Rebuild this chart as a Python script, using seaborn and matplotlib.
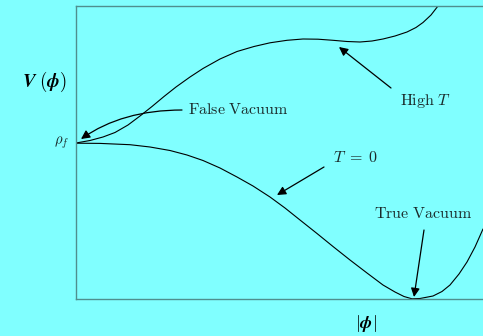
import matplotlib
matplotlib.use("Agg")
import matplotlib.pyplot as plt
import seaborn as sns
import pandas as pd

# curves (phi, V), axis units
phi_t0 = [0, 24, 54, 74, 94, 111, 127, 144, 161, 177, 194, 209, 224, 241, 257, 274, 291, 307,
          319, 328, 336, 344, 357, 366, 374, 383, 391, 399, 407]
v_t0 = [155.8, 155.6, 154.3, 152, 148.5, 144, 138.5, 131, 122, 113, 102, 91, 79, 65.5, 52.5, 39,
        26, 14, 7, 2.5, 0.2, 0.5, 3, 7.5, 14, 25, 37, 52, 70]

phi_hot = [0, 14, 27, 39, 52, 64, 76, 88, 100, 114, 127, 144, 161, 178, 194, 211, 227, 242, 257,
           271, 284, 296, 307, 319, 331, 340, 347, 355, 362, 368]
v_hot = [156, 158.5, 162, 166.5, 174, 183, 192.5, 202.5, 212, 222, 230.5, 240, 247.5, 252.5,
         256.2, 258.7, 260, 259.8, 258.7, 257.5, 257, 258, 260, 263, 267, 271.5, 276.5, 284, 293, 302]

rho_f = 156

bg = "#80ffff"
frame = "#4f8f8f"

sns.set_theme(style="white")
plt.rcParams["mathtext.fontset"] = "cm"

fig = plt.figure(figsize=(4.83, 3.36), dpi=100, facecolor=bg)
ax = fig.add_axes([76 / 483, 1 - 299 / 336, 407 / 483, 293 / 336])
ax.set_facecolor(bg)

df = pd.concat([
    pd.DataFrame({"phi": phi_t0, "V": v_t0, "curve": "T=0"}),
    pd.DataFrame({"phi": phi_hot, "V": v_hot, "curve": "high"}),
])
sns.lineplot(data=df, x="phi", y="V", units="curve", estimator=None, sort=False,
             color="black", lw=0.8, solid_joinstyle="round", ax=ax)

ax.set_xlim(0, 407)
ax.set_ylim(0, 293)
ax.set_xticks([])
ax.set_yticks([])
ax.set_xlabel("")
ax.set_ylabel("")
for side in ["left", "top", "bottom"]:
    ax.spines[side].set_color(frame)
    ax.spines[side].set_linewidth(1.0)
ax.spines["right"].set_visible(False)

arrow = dict(arrowstyle="-|>", color="black", lw=0.9, mutation_scale=13, shrinkA=0, shrinkB=0)
txt = dict(fontsize=11.5, color="#1a2a2a")

ax.annotate("", xy=(5, 160), xytext=(106, 189),
            arrowprops=dict(arrow, connectionstyle="angle3,angleA=0,angleB=35"))
ax.text(112, 189, r"$\mathrm{False\ Vacuum}$", va="center", ha="left", **txt)

ax.annotate("", xy=(263, 252), xytext=(315, 211), arrowprops=arrow)
ax.text(324, 198, r"$\mathrm{High}\ T$", va="center", ha="left", **txt)

ax.annotate("", xy=(201, 104), xytext=(248, 132), arrowprops=arrow)
ax.text(257, 141, r"$T\;=\;0$", va="center", ha="left", **txt)

ax.annotate("", xy=(338, 2), xytext=(348, 69), arrowprops=arrow)
ax.text(347, 85, r"$\mathrm{True\ Vacuum}$", va="center", ha="center", **txt)

ax.text(-7, rho_f, r"$\rho_f$", va="center", ha="right", fontsize=10.5, color="#1a2a2a")

fig.text(44 / 483, 1 - 82 / 336, r"$\boldsymbol{V}\;(\boldsymbol{\phi})$", ha="center", va="center",
         fontsize=13.5, color="black")
fig.text(366 / 483, 1 - 323 / 336, r"$|\boldsymbol{\phi}|$", ha="center", va="center",
         fontsize=13, color="black")

fig.savefig("out.png", dpi=100, facecolor=bg)
